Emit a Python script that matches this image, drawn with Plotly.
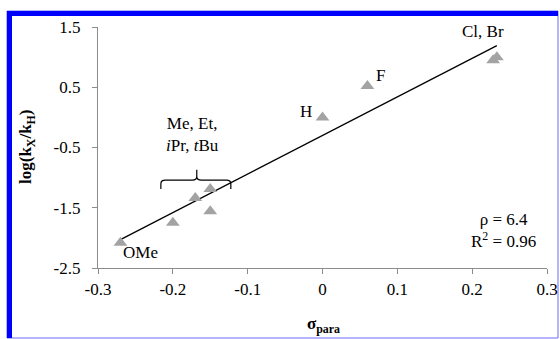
import plotly.graph_objects as go
import numpy as np

# Data
substituents = ["OMe", "tBu", "Me", "Et", "iPr", "H", "F", "Cl", "Br"]
sigma_para = [-0.27, -0.20, -0.17, -0.15, -0.15, 0.0, 0.06, 0.228, 0.233]
log_ratio = [-2.08, -1.75, -1.34, -1.19, -1.56, 0.0, 0.52, 0.95, 1.0]
fit_slope = 6.4
fit_intercept = -0.3
fit_range = [-0.27, 0.233]
x_ticks = [-0.3, -0.2, -0.1, 0, 0.1, 0.2, 0.3]
y_ticks = [1.5, 0.5, -0.5, -1.5, -2.5]

W, H = 560, 339
L, R, T, B = 98, 13, 27, 71
pw, ph = W - L - R, H - T - B

def px2paper(px, py):
    return (px - L) / pw, (H - B - py) / ph

FONT = "Liberation Serif"
fig = go.Figure()

fx = np.array(fit_range)
fig.add_trace(go.Scatter(x=fx, y=fit_slope * fx + fit_intercept, mode="lines",
                         line=dict(color="black", width=1.3), showlegend=False, hoverinfo="skip"))
fig.add_trace(go.Scatter(x=sigma_para, y=log_ratio, mode="markers",
                         marker=dict(symbol="triangle-up", size=12, color="#a3a3a3"),
                         showlegend=False))

fig.update_xaxes(range=[-0.3, 0.3], tickvals=x_ticks, ticktext=["-0.3", "-0.2", "-0.1", "0", "0.1", "0.2", "0.3"],
                 showgrid=False, zeroline=False, showline=True, linecolor="#8c8c8c", linewidth=1.2,
                 automargin=False,
                 ticks="outside", ticklen=5, tickcolor="#8c8c8c", tickfont=dict(family=FONT, size=17, color="black"))
fig.update_yaxes(range=[-2.5, 1.5], tickvals=y_ticks, ticktext=["1.5", "0.5", "-0.5", "-1.5", "-2.5"],
                 showgrid=False, zeroline=False, showline=True, linecolor="#8c8c8c", linewidth=1.2,
                 automargin=False,
                 ticks="outside", ticklen=5, tickcolor="#8c8c8c", ticklabelstandoff=8,
                 tickfont=dict(family=FONT, size=17, color="black"))

anns = []
def ann(text, px, py, size=17, xanchor="center", **kw):
    x, y = px2paper(px, py)
    anns.append(dict(text=text, x=x, y=y, xref="paper", yref="paper", showarrow=False,
                     xanchor=xanchor, yanchor="middle", font=dict(family=FONT, size=size, color="black"), **kw))

ann("Cl, Br", 483, 31)
ann("F", 380, 75)
ann("H", 306, 112)
ann("OMe", 140, 252)
ann("Me, Et,<br><i>i</i>Pr, <i>t</i>Bu", 192, 134, align="center")
ann("ρ = 6.4<br>R<sup>2</sup> = 0.96", 503, 230, align="center")
ann("<b>log(k<sub>X</sub>/k<sub>H</sub>)</b>", 27, 147, textangle=-90)
ann("<b>σ<sub>para</sub></b>", 323, 325)

# Brace (data coords)
bx0, bx1, bxm = -0.216, -0.1225, -0.168
by_end, by_h, by_top = -1.19, -1.04, -0.87
d = 0.006
dy = 0.06
brace = (f"M {bx0},{by_end} L {bx0},{by_h - dy} Q {bx0},{by_h} {bx0 + d},{by_h} "
         f"L {bxm - d},{by_h} Q {bxm},{by_h} {bxm},{by_h + dy} L {bxm},{by_top} "
         f"M {bxm},{by_h + dy} Q {bxm},{by_h} {bxm + d},{by_h} "
         f"L {bx1 - d},{by_h} Q {bx1},{by_h} {bx1},{by_h - dy} L {bx1},{by_end}")
shapes = [dict(type="path", path=brace, xref="x", yref="y", line=dict(color="black", width=1.2))]

# Blue frame
lx0, ty0 = px2paper(7, 11)
lx1, ty1 = px2paper(12, 16)
rx, by = px2paper(558, 338)
shapes.append(dict(type="rect", xref="paper", yref="paper", x0=lx0, x1=rx, y0=by, y1=ty0,
                   line=dict(color="#6a6aff", width=1), fillcolor="rgba(0,0,0,0)"))
shapes.append(dict(type="rect", xref="paper", yref="paper", x0=lx0, x1=lx1, y0=by, y1=ty0,
                   line=dict(width=0), fillcolor="#0000ff"))
shapes.append(dict(type="rect", xref="paper", yref="paper", x0=lx0, x1=rx, y0=ty1, y1=ty0,
                   line=dict(width=0), fillcolor="#0000ff"))

fig.update_layout(width=W, height=H, margin=dict(l=L, r=R, t=T, b=B),
                  paper_bgcolor="white", plot_bgcolor="white",
                  annotations=anns, shapes=shapes, showlegend=False)
fig.write_html("out.html")
